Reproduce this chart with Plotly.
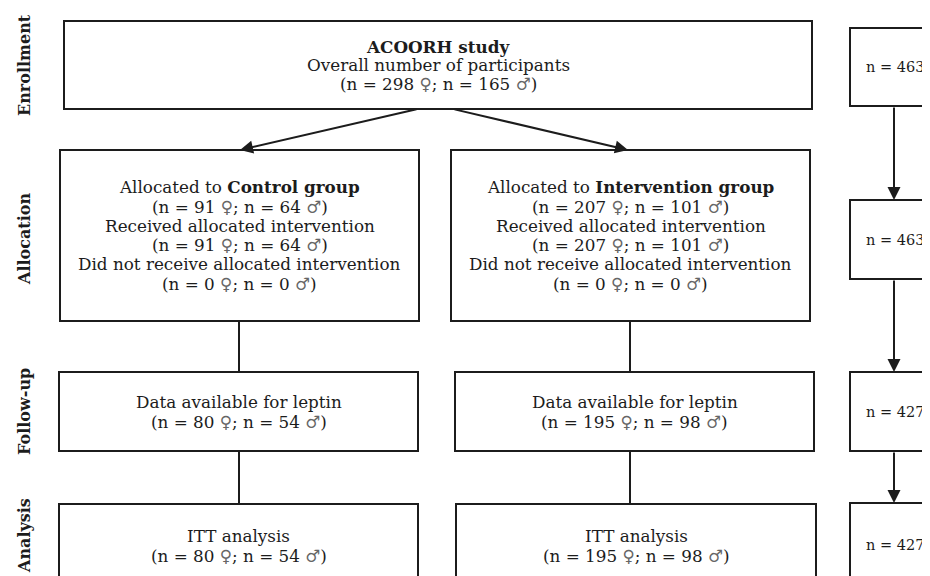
import plotly.graph_objects as go

# ---------------- data ----------------
stages = ["Enrollment", "Allocation", "Follow-up", "Analysis"]
study_name = "ACOORH study"
total_counts = [298, 165]                      # female, male
control_alloc = [91, 64]
control_received = [91, 64]
control_not_received = [0, 0]
control_followup = [80, 54]
control_itt = [80, 54]
interv_alloc = [207, 101]
interv_received = [207, 101]
interv_not_received = [0, 0]
interv_followup = [195, 98]
interv_itt = [195, 98]
side_totals = [463, 463, 427, 427]

FEM, MAL = "\u2640", "\u2642"


def nn(c):
    return f"(n = {c[0]} <span style='color:#666'>{FEM}</span>; n = {c[1]} <span style='color:#666'>{MAL}</span>)"


# ---------------- layout geometry ----------------
INK = "#1c1c1c"
FONT = "DejaVu Serif"
FS = 16.8
OFF = 8  # browser body margin

boxes = []   # (x0, y0, x1, y1, lines, spacing)
boxes.append((64, 21, 812, 109,
              [f"<b>{study_name}</b>", "Overall number of participants", nn(total_counts)], 18.5))
boxes.append((60, 150, 419, 321,
              ["Allocated to <b>Control group</b>", nn(control_alloc),
               "Received allocated intervention", nn(control_received),
               "Did not receive allocated intervention", nn(control_not_received)], 19.3))
boxes.append((451, 150, 810, 321,
              ["Allocated to <b>Intervention group</b>", nn(interv_alloc),
               "Received allocated intervention", nn(interv_received),
               "Did not receive allocated intervention", nn(interv_not_received)], 19.3))
boxes.append((59, 372, 418, 451, ["Data available for leptin", nn(control_followup)], 20))
boxes.append((455, 372, 814, 451, ["Data available for leptin", nn(interv_followup)], 20))
boxes.append((59, 504, 418, 640, ["ITT analysis", nn(control_itt)], 20))
boxes.append((456, 504, 816, 640, ["ITT analysis", nn(interv_itt)], 20))

shapes = []
annotations = []

for x0, y0, x1, y1, lines, sp in boxes:
    shapes.append(dict(type="rect", x0=x0, y0=y0, x1=x1, y1=y1, xref="x", yref="y",
                       line=dict(color=INK, width=2), fillcolor="white", layer="below"))
    cx = (x0 + x1) / 2
    cy = (y0 + y1) / 2 if y1 <= 576 else 546
    n = len(lines)
    for k, t in enumerate(lines):
        annotations.append(dict(x=cx, y=cy + (k - (n - 1) / 2) * sp, xref="x", yref="y",
                                text=t, showarrow=False, xanchor="center", yanchor="middle",
                                font=dict(family=FONT, size=FS, color=INK)))

# side totals column
side_y = [(28, 106), (200, 279), (372, 451), (503, 640)]
for (y0, y1), v in zip(side_y, side_totals):
    shapes.append(dict(type="rect", x0=850, y0=y0, x1=980, y1=y1, xref="x", yref="y",
                       line=dict(color=INK, width=2), fillcolor="white", layer="below"))
    cy = (y0 + y1) / 2 if y1 <= 576 else 545
    annotations.append(dict(x=864, y=cy, xref="x", yref="y", text=f"n = {v}",
                            showarrow=False, xanchor="left", yanchor="middle",
                            font=dict(family=FONT, size=14.5, color=INK)))

# connector lines (no arrowheads)
for x, (ya, yb) in [(239, (321, 372)), (239, (451, 504)), (630, (321, 372)), (630, (451, 504))]:
    shapes.append(dict(type="line", x0=x, x1=x, y0=ya, y1=yb, xref="x", yref="y",
                       line=dict(color=INK, width=2)))

# arrows
arrows = [((418, 109), (240, 150)), ((453, 109), (628, 150)),
          ((894, 106), (894, 200)), ((894, 279), (894, 372)), ((894, 451), (894, 503))]
for (tx, ty), (hx, hy) in arrows:
    annotations.append(dict(x=hx, y=hy, ax=tx, ay=ty, xref="x", yref="y", axref="x", ayref="y",
                            text="", showarrow=True, arrowhead=2, arrowsize=1.3, arrowwidth=2,
                            arrowcolor=INK, standoff=0))

# stage labels
stage_y = [65, 239, 412, 536]
for s, y in zip(stages, stage_y):
    annotations.append(dict(x=24, y=y, xref="x", yref="y", text=f"<b>{s}</b>", textangle=-90,
                            showarrow=False, xanchor="center", yanchor="middle",
                            font=dict(family=FONT, size=16, color=INK)))

fig = go.Figure()
fig.update_layout(
    width=930, height=576, margin=dict(l=0, r=0, t=0, b=0),
    paper_bgcolor="white", plot_bgcolor="white",
    xaxis=dict(range=[OFF, 930 + OFF], visible=False, fixedrange=True),
    yaxis=dict(range=[576 + OFF, OFF], visible=False, fixedrange=True),
    shapes=shapes, annotations=annotations, showlegend=False,
)

fig.write_html("out.html")
